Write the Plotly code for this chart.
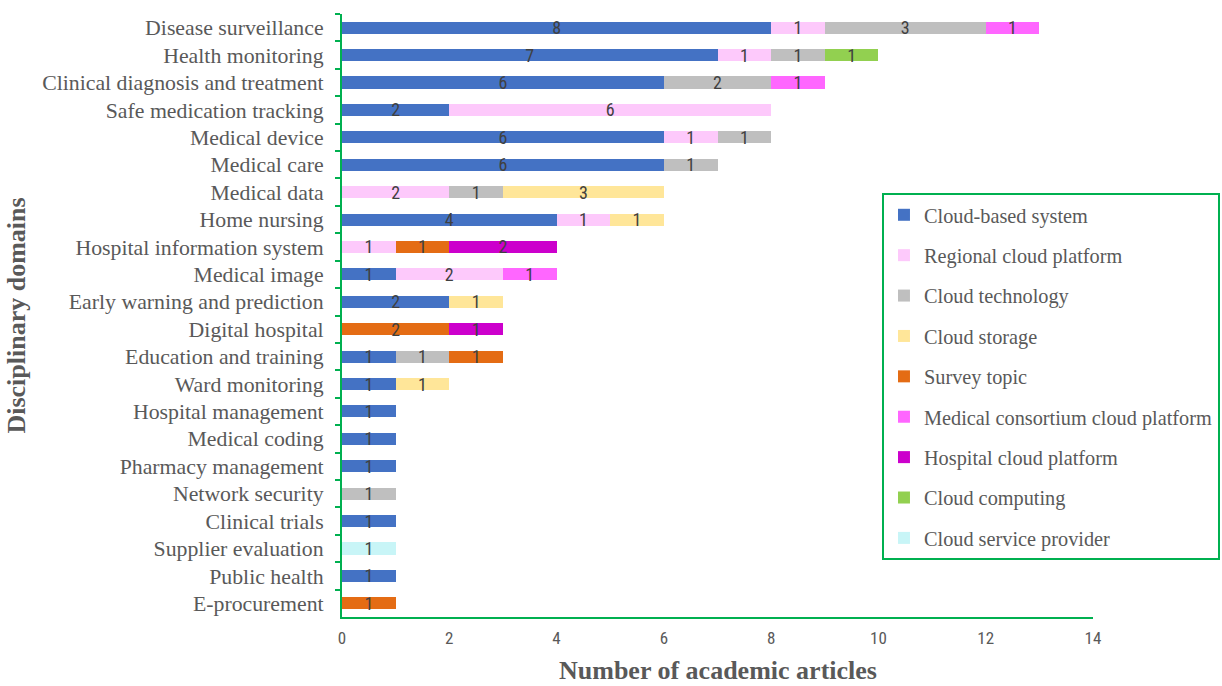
import plotly.graph_objects as go

categories = [
    "Disease surveillance", "Health monitoring", "Clinical diagnosis and treatment",
    "Safe medication tracking", "Medical device", "Medical care", "Medical data",
    "Home nursing", "Hospital information system", "Medical image",
    "Early warning and prediction", "Digital hospital", "Education and training",
    "Ward monitoring", "Hospital management", "Medical coding", "Pharmacy management",
    "Network security", "Clinical trials", "Supplier evaluation", "Public health",
    "E-procurement",
]

cloud_based_system = [8, 7, 6, 2, 6, 6, 0, 4, 0, 1, 2, 0, 1, 1, 1, 1, 1, 0, 1, 0, 1, 0]
regional_cloud_platform = [1, 1, 0, 6, 1, 0, 2, 1, 1, 2, 0, 0, 0, 0, 0, 0, 0, 0, 0, 0, 0, 0]
cloud_technology = [3, 1, 2, 0, 1, 1, 1, 0, 0, 0, 0, 0, 1, 0, 0, 0, 0, 1, 0, 0, 0, 0]
cloud_storage = [0, 0, 0, 0, 0, 0, 3, 1, 0, 0, 1, 0, 0, 1, 0, 0, 0, 0, 0, 0, 0, 0]
survey_topic = [0, 0, 0, 0, 0, 0, 0, 0, 1, 0, 0, 2, 1, 0, 0, 0, 0, 0, 0, 0, 0, 1]
medical_consortium_cloud_platform = [1, 0, 1, 0, 0, 0, 0, 0, 0, 1, 0, 0, 0, 0, 0, 0, 0, 0, 0, 0, 0, 0]
hospital_cloud_platform = [0, 0, 0, 0, 0, 0, 0, 0, 2, 0, 0, 1, 0, 0, 0, 0, 0, 0, 0, 0, 0, 0]
cloud_computing = [0, 1, 0, 0, 0, 0, 0, 0, 0, 0, 0, 0, 0, 0, 0, 0, 0, 0, 0, 0, 0, 0]
cloud_service_provider = [0, 0, 0, 0, 0, 0, 0, 0, 0, 0, 0, 0, 0, 0, 0, 0, 0, 0, 0, 1, 0, 0]

series = [
    ("Cloud-based system", cloud_based_system, "#4472C4"),
    ("Regional cloud platform", regional_cloud_platform, "#FDC9FB"),
    ("Cloud technology", cloud_technology, "#BFBFBF"),
    ("Cloud storage", cloud_storage, "#FFE699"),
    ("Survey topic", survey_topic, "#E46C14"),
    ("Medical consortium cloud platform", medical_consortium_cloud_platform, "#FF66FF"),
    ("Hospital cloud platform", hospital_cloud_platform, "#CC00CC"),
    ("Cloud computing", cloud_computing, "#92D050"),
    ("Cloud service provider", cloud_service_provider, "#C8F5F7"),
]

x_ticks = [0, 2, 4, 6, 8, 10, 12, 14]

GREEN = "#00B050"
GRAY = "#595959"
SERIF = "Liberation Serif, Times New Roman, serif"
NARROW = "Liberation Sans Narrow, Arial Narrow, Roboto Condensed, Liberation Sans, sans-serif"

fig = go.Figure()
for name, vals, color in series:
    xs = [v if v > 0 else None for v in vals]
    fig.add_trace(go.Bar(
        y=categories, x=xs, name=name, orientation="h",
        marker=dict(color=color, line=dict(width=0)),
        text=[str(v) if v > 0 else "" for v in vals],
        textposition="inside", insidetextanchor="middle", textangle=0,
        textfont=dict(family=NARROW, size=18, color="#404040"),
        legendgroup=name, width=0.44,
    ))

fig.update_layout(
    barmode="stack",
    width=1222, height=686,
    margin=dict(l=342, r=129, t=14, b=69, autoexpand=False),
    paper_bgcolor="white", plot_bgcolor="white",
    uniformtext=dict(minsize=18, mode="show"),
    showlegend=True,
    legend=dict(
        x=0.719, y=0.703, xanchor="left", yanchor="top",
        bordercolor=GREEN, borderwidth=2, bgcolor="white",
        font=dict(family=SERIF, size=20.3, color=GRAY),
        tracegroupgap=11, itemwidth=30,
    ),
    xaxis=dict(
        range=[0, 14], tickvals=x_ticks, showgrid=False, zeroline=False,
        showline=True, linecolor=GREEN, linewidth=2, ticks="",
        ticklabelstandoff=5,
        tickfont=dict(family=NARROW, size=17, color=GRAY),
    ),
    yaxis=dict(
        type="category", autorange="reversed", showgrid=False, zeroline=False,
        showline=True, linecolor=GREEN, linewidth=2,
        ticks="outside", tickson="boundaries", ticklen=5, tickcolor=GREEN, tickwidth=2,
        ticklabelstandoff=12,
        tickfont=dict(family=SERIF, size=21.8, color=GRAY),
    ),
    annotations=[
        dict(text="<b>Disciplinary domains</b>", textangle=-90, xref="paper", yref="paper",
             x=-0.434, y=0.5, xanchor="center", yanchor="middle", showarrow=False,
             font=dict(family=SERIF, size=26, color=GRAY)),
        dict(text="<b>Number of academic articles</b>", xref="paper", yref="paper",
             x=0.5, y=-0.089, xanchor="center", yanchor="middle", showarrow=False,
             font=dict(family=SERIF, size=26, color=GRAY)),
    ],
)

fig.write_html("out.html")
